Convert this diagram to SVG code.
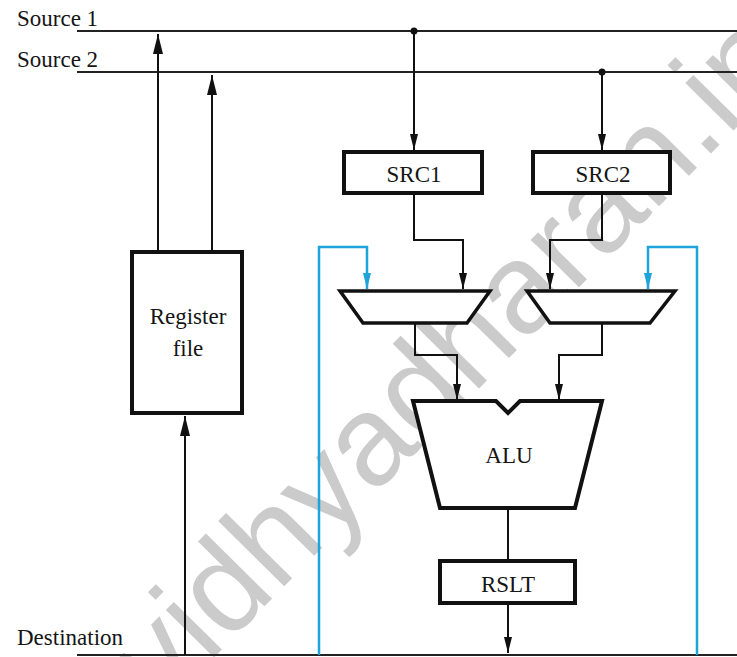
<svg xmlns="http://www.w3.org/2000/svg" width="737" height="657" viewBox="0 0 737 657">
  <style>
    .lbl { font-family: "Liberation Serif", "Times New Roman", serif; font-size: 23px; fill: #151515; }
    .mid { text-anchor: middle; }
    .box { fill: #fff; stroke: #111; stroke-width: 4; }
    .mux { fill: #fff; stroke: #111; stroke-width: 3.5; stroke-linejoin: miter; }
    .bus { fill: none; stroke: #222; stroke-width: 2; }
    .w { fill: none; stroke: #111; stroke-width: 2; }
    .fb { fill: none; stroke: #1ea3da; stroke-width: 2.5; }
    .wm { font-family: "Liberation Sans", Arial, sans-serif; font-size: 128px; fill: #cbcbcb; }
  </style>
  <defs>
    <marker id="ah" viewBox="0 0 16 8" refX="16" refY="4" markerWidth="16" markerHeight="8" markerUnits="userSpaceOnUse" orient="auto">
      <path d="M0,0 L16,4 L0,8 Z" fill="#111"/>
    </marker>
    <marker id="ahL" viewBox="0 0 20 10" refX="20" refY="5" markerWidth="20" markerHeight="10" markerUnits="userSpaceOnUse" orient="auto">
      <path d="M0,0 L20,5 L0,10 Z" fill="#111"/>
    </marker>
    <marker id="ahb" viewBox="0 0 16 8" refX="16" refY="4" markerWidth="16" markerHeight="8" markerUnits="userSpaceOnUse" orient="auto">
      <path d="M0,0 L16,4 L0,8 Z" fill="#1ea3da"/>
    </marker>
  </defs>

  <rect width="737" height="657" fill="#fff"/>

  <!-- site watermark, drawn beneath everything -->
  <text class="wm" transform="rotate(-45.4 163 709)" x="163" y="709">vidhyadharan.in</text>

  <!-- buses -->
  <g id="bus-source1">
    <line class="bus" x1="77" y1="31" x2="737" y2="31"/>
    <text class="lbl" x="17" y="26">Source 1</text>
  </g>
  <g id="bus-source2">
    <line class="bus" x1="77" y1="72" x2="737" y2="72"/>
    <text class="lbl" x="17" y="67">Source 2</text>
  </g>
  <g id="bus-destination">
    <line class="bus" x1="77" y1="655" x2="737" y2="655" stroke-width="2.5"/>
    <text class="lbl" x="17" y="645">Destination</text>
  </g>

  <!-- connectors -->
  <g id="connectors">
    <!-- register file to source buses -->
    <line class="w" x1="158" y1="252" x2="158" y2="34" stroke-width="1.8" marker-end="url(#ahL)"/>
    <line class="w" x1="212" y1="252" x2="212" y2="75" stroke-width="3" marker-end="url(#ahL)"/>
    <!-- destination bus to register file -->
    <line class="w" x1="185" y1="655" x2="185" y2="416" stroke-width="2.5" marker-end="url(#ahL)"/>

    <!-- bus taps to SRC registers -->
    <circle cx="414" cy="31" r="3.5" fill="#111"/>
    <line class="w" x1="414" y1="31" x2="414" y2="150" marker-end="url(#ah)"/>
    <circle cx="602" cy="72" r="3.5" fill="#111"/>
    <line class="w" x1="602" y1="72" x2="602" y2="150" marker-end="url(#ah)"/>

    <!-- SRC registers to multiplexers -->
    <polyline class="w" points="414,193 414,240 463,240 463,289" marker-end="url(#ah)"/>
    <polyline class="w" points="602,193 602,240 550,240 550,289" marker-end="url(#ah)"/>

    <!-- feedback from destination bus -->
    <polyline class="fb" points="319,655 319,247 367,247 367,289" marker-end="url(#ahb)"/>
    <polyline class="fb" points="697,655 697,247 648,247 648,289" marker-end="url(#ahb)"/>

    <!-- multiplexers to ALU -->
    <polyline class="w" points="415,323 415,355 457,355 457,400" marker-end="url(#ah)"/>
    <polyline class="w" points="602,323 602,355 559,355 559,400" marker-end="url(#ah)"/>

    <!-- ALU to RSLT to destination -->
    <line class="w" x1="508" y1="508" x2="508" y2="561"/>
    <line class="w" x1="508" y1="603" x2="508" y2="653" marker-end="url(#ah)"/>
  </g>

  <!-- nodes -->
  <g id="register-file">
    <rect class="box" x="132" y="252" width="110" height="161"/>
    <text class="lbl mid" x="188" y="324">Register</text>
    <text class="lbl mid" x="188" y="356">file</text>
  </g>
  <g id="src1">
    <rect class="box" x="344" y="152" width="138" height="41"/>
    <text class="lbl mid" x="414" y="182">SRC1</text>
  </g>
  <g id="src2">
    <rect class="box" x="533" y="152" width="137" height="41"/>
    <text class="lbl mid" x="603" y="182">SRC2</text>
  </g>
  <g id="mux1">
    <polygon class="mux" points="340,291 490,291 467,323 363,323"/>
  </g>
  <g id="mux2">
    <polygon class="mux" points="527,291 675,291 650,323 550,323"/>
  </g>
  <g id="alu">
    <polygon class="box" points="413,401 496,401 508,413 520,401 602,401 575,508 440,508"/>
    <text class="lbl mid" x="509" y="463">ALU</text>
  </g>
  <g id="rslt">
    <rect class="box" x="440" y="561" width="135" height="42"/>
    <text class="lbl mid" x="508" y="592">RSLT</text>
  </g>
</svg>
